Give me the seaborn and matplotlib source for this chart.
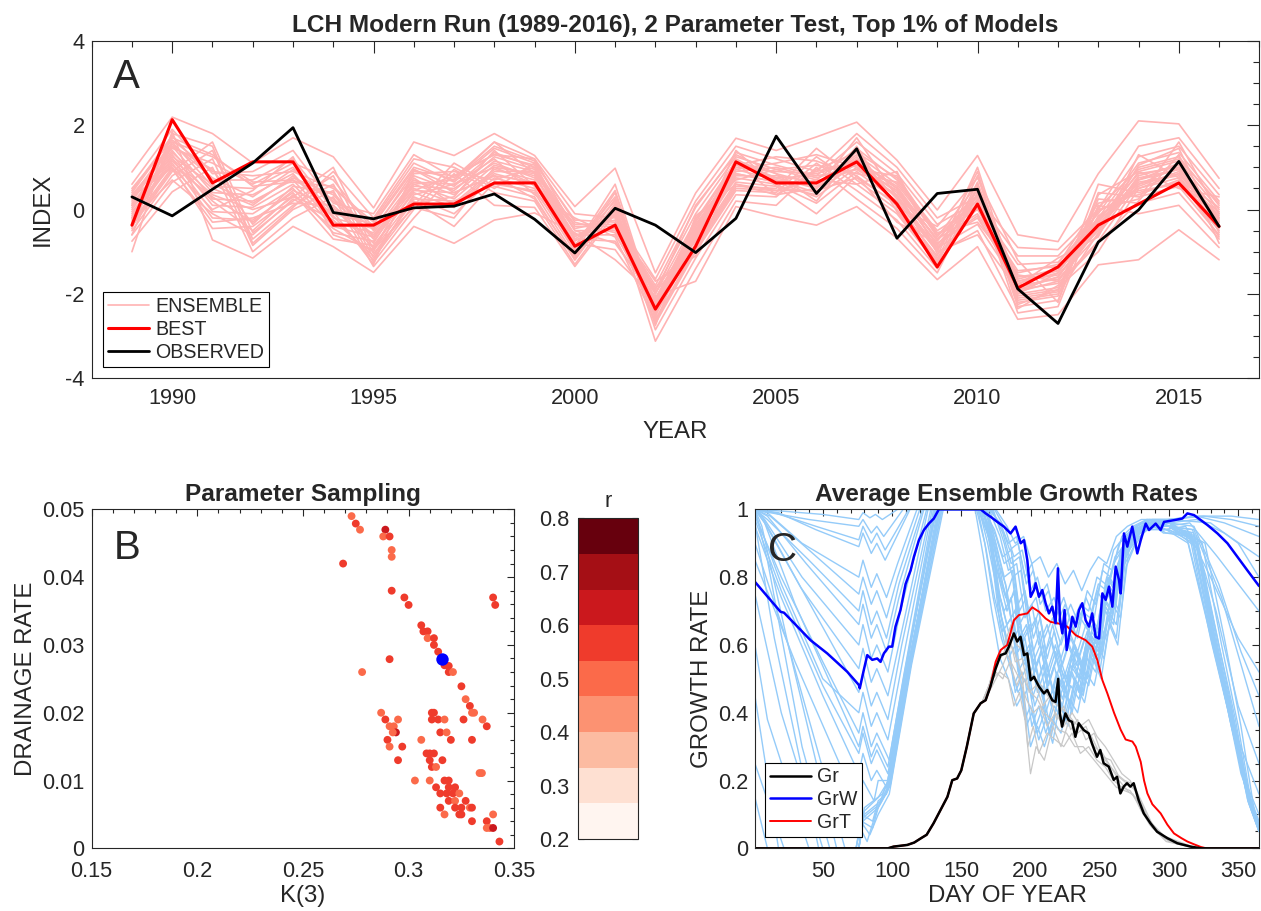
import matplotlib
matplotlib.use("Agg")
import numpy as np
import pandas as pd
import matplotlib.pyplot as plt
import seaborn as sns
from matplotlib.colors import ListedColormap, BoundaryNorm
from matplotlib.cm import ScalarMappable
from matplotlib.lines import Line2D
from matplotlib.ticker import MultipleLocator

# ---------------- Panel A: index time series ----------------
YEARS = list(range(1989, 2017))
BEST = [-0.37, 2.13, 0.63, 1.13, 1.13, -0.37, -0.37, 0.13, 0.13, 0.63, 0.63, -0.87, -0.37, -2.36,
        -0.87, 1.13, 0.63, 0.63, 1.13, 0.13, -1.36, 0.13, -1.86, -1.36, -0.37, 0.13, 0.63, -0.40]
OBSERVED = [0.30, -0.15, 0.48, 1.10, 1.94, -0.07, -0.22, 0.04, 0.08, 0.37, -0.23, -1.03, 0.03, -0.37,
            -1.02, -0.21, 1.74, 0.38, 1.44, -0.68, 0.38, 0.48, -1.88, -2.70, -0.77, -0.01, 1.14, -0.40]
# one row per year, one column per ensemble member
ENSEMBLE = [
    [0.89, 0.6, 0.45, 0.3, 0.2, 0.1, 0.0, -0.1, -0.2, -0.3, -0.4, -0.5, -0.6, -0.75, -1.0, 0.35, 0.15, -0.05, -0.25, 0.5,
     0.25, -0.15, 0.4, -0.35, 0.05, -0.45, 0.3, -0.2, 0.1, -0.6],
    [2.19, 1.9, 1.75, 1.6, 1.5, 1.4, 1.3, 1.2, 1.1, 1.0, 0.9, 0.8, 0.65, 0.42, 1.85, 1.45, 1.25, 1.05, 0.7, 1.65,
     1.55, 1.15, 1.7, 0.95, 1.35, 1.8, 1.0, 1.5, 1.2, 1.6],
    [1.8, 0.85, 0.7, 0.55, 0.4, 0.25, 0.1, -0.05, -0.2, -0.45, 1.6, 1.4, 1.2, 1.0, -0.72, 1.1, 0.6, 0.3, -0.1, 0.9,
     0.75, 0.2, 1.3, -0.3, 0.5, 1.5, 0.0, 0.95, 0.35, 1.25],
    [1.1, 0.9, 0.7, 0.5, 0.35, 0.2, 0.05, -0.1, -0.25, -0.4, -0.55, -0.7, -0.85, -1.0, -1.15, 0.6, 0.15, -0.3, -0.6, 0.8,
     0.3, -0.5, 0.55, -0.2, 0.1, -0.8, 0.45, -0.35, 0.0, 0.65],
    [1.7, 1.4, 1.2, 1.0, 0.85, 0.7, 0.6, 0.5, 0.4, 0.3, 0.2, 0.1, 0.0, -0.2, -0.4, 1.1, 0.75, 0.45, 0.25, 0.9,
     0.95, 0.35, 0.65, 0.15, 0.8, 0.05, 1.25, 0.55, 0.3, 0.7],
    [1.25, 0.15, 0.0, -0.1, -0.2, -0.3, -0.4, -0.55, -0.7, 1.0, 0.8, 0.6, 0.45, 0.3, -0.88, 0.7, 0.35, 0.05, -0.25, 0.5,
     0.2, -0.45, 0.55, 0.1, -0.15, 0.9, -0.6, 0.4, -0.05, 0.25],
    [0.04, -0.1, -0.25, -0.35, -0.45, -0.55, -0.65, -0.75, -0.85, -0.95, -1.05, -1.15, -1.25, -1.35, -1.49, -0.5, -0.7, -0.9, -1.1, -0.3,
     -0.6, -1.0, -0.4, -0.8, -1.2, -0.2, -0.95, -0.65, -1.3, -0.45],
    [1.6, 1.3, 1.1, 0.95, 0.8, 0.7, 0.6, 0.5, 0.4, 0.3, 0.2, 0.1, 0.0, -0.2, -0.4, 0.9, 0.65, 0.45, 0.25, 1.0,
     0.55, 0.85, 0.15, 0.75, 0.35, 1.2, 0.05, 0.6, 0.95, 0.45],
    [1.28, 0.75, 0.65, 0.55, 0.45, 0.35, 0.25, 0.15, 0.05, -0.1, -0.4, 1.1, 0.95, 0.85, -0.8, 0.8, 0.6, 0.4, 0.2, 0.7,
     0.5, 0.9, 0.3, 0.1, 0.6, 1.0, -0.2, 0.7, 0.4, 0.8],
    [1.8, 1.6, 1.45, 1.35, 1.25, 1.15, 1.05, 0.95, 0.85, 0.75, 0.65, 0.55, 0.4, 0.1, -0.25, 1.3, 1.0, 0.8, 0.6, 1.5,
     1.1, 0.7, 1.4, 0.9, 1.2, 0.5, 1.0, 1.6, 0.8, 1.3],
    [1.28, 1.2, 1.1, 1.0, 0.95, 0.9, 0.8, 0.7, 0.6, 0.5, 0.4, 0.3, 0.2, 0.05, -0.08, 1.05, 0.85, 0.65, 0.45, 1.15,
     0.75, 1.0, 0.55, 0.9, 0.35, 1.1, 0.6, 0.85, 0.25, 1.2],
    [0.07, -0.1, -0.25, -0.4, -0.5, -0.6, -0.7, -0.8, -0.9, -1.0, -1.1, -1.2, -1.3, -1.35, -0.55, -0.75, -0.95, -0.65, -0.85, -0.3,
     -0.45, -0.85, -0.6, -1.05, -0.2, -0.7, -0.9, -0.35, -1.15, -0.5],
    [0.98, -0.2, -0.3, -0.4, -0.5, -0.6, -0.75, -0.95, 0.6, 0.4, 0.25, 0.1, 0.0, -0.1, -1.19, -0.15, -0.35, -0.05, 0.2, -0.55,
     -0.25, 0.3, -0.45, 0.05, -0.65, -0.1, 0.45, -0.35, 0.15, -0.8],
    [-1.5, -1.65, -1.8, -1.9, -2.0, -2.1, -2.2, -2.3, -2.4, -2.5, -2.6, -2.7, -2.85, -3.12, -2.05, -2.25, -2.45, -1.95, -2.15, -2.35,
     -2.2, -2.55, -1.85, -2.3, -2.65, -2.0, -2.4, -1.7, -2.75, -2.1],
    [0.39, 0.2, 0.05, -0.1, -0.25, -0.4, -0.5, -0.6, -0.7, -0.8, -0.9, -1.0, -1.15, -1.4, -1.7, -0.45, -0.65, -0.85, -0.3, -0.55,
     -0.6, -0.2, -0.75, -0.35, -0.95, 0.1, -0.5, -1.1, -0.15, -0.7],
    [1.69, 1.5, 1.35, 1.25, 1.15, 1.05, 0.95, 0.85, 0.75, 0.65, 0.55, 0.45, 0.35, 0.2, 0.07, 1.0, 0.8, 0.6, 1.1, 0.9,
     1.2, 0.7, 1.4, 0.95, 0.5, 1.3, 0.85, 1.05, 0.6, 1.15],
    [1.4, 1.2, 1.05, 0.95, 0.85, 0.75, 0.7, 0.65, 0.6, 0.55, 0.5, 0.4, 0.3, 0.1, -0.17, 0.9, 0.8, 0.45, 0.35, 1.0,
     0.7, 0.95, 0.55, 1.1, 0.45, 0.85, 0.65, 1.25, 0.35, 0.75],
    [1.72, 0.9, 0.8, 0.7, 0.6, 0.5, 0.4, 0.3, 0.15, -0.1, 1.45, 1.25, 1.1, 1.0, -0.37, 0.85, 0.65, 0.45, 0.95, 0.75,
     0.55, 1.05, 0.35, 1.3, 0.7, 0.2, 0.9, 1.15, 0.5, 0.8],
    [2.07, 1.8, 1.6, 1.45, 1.3, 1.2, 1.1, 1.0, 0.9, 0.8, 0.7, 0.6, 0.45, 0.25, 0.07, 1.15, 0.95, 0.75, 1.35, 1.05,
     1.25, 0.85, 1.5, 1.0, 0.6, 1.4, 1.15, 0.8, 1.7, 0.95],
    [1.17, 1.0, 0.85, 0.7, 0.6, 0.5, 0.4, 0.3, 0.2, 0.1, 0.0, -0.1, -0.25, -0.45, -0.68, 0.55, 0.35, 0.15, 0.75, 0.45,
     0.25, 0.65, -0.05, 0.45, 0.9, 0.05, 0.5, -0.3, 0.3, 0.8],
    [-0.01, -0.2, -0.35, -0.5, -0.6, -0.7, -0.8, -0.9, -1.0, -1.1, -1.2, -1.3, -1.4, -1.5, -1.66, -0.75, -0.95, -1.15, -0.65, -0.85,
     -0.9, -0.55, -1.25, -0.7, -1.05, -0.4, -1.35, -0.8, -1.0, -0.6],
    [1.28, 0.3, 0.2, 0.1, 0.0, -0.1, -0.2, -0.35, -0.6, 1.0, 0.8, 0.65, 0.5, 0.4, -0.88, 0.45, 0.25, 0.05, 0.6, 0.35,
     0.15, -0.3, 0.55, 0.3, -0.5, 0.75, 0.1, -0.15, 0.9, 0.2],
    [-0.6, -0.9, -1.1, -1.3, -1.45, -1.6, -1.7, -1.8, -1.9, -2.0, -2.1, -2.2, -2.3, -2.45, -2.6, -1.75, -1.95, -2.05, -1.65, -1.85,
     -1.9, -1.5, -2.15, -1.7, -2.35, -1.2, -2.0, -1.8, -2.25, -1.55],
    [-0.76, -0.95, -1.1, -1.25, -1.35, -1.45, -1.55, -1.65, -1.75, -1.85, -1.95, -2.05, -2.15, -2.3, -2.49, -1.5, -1.7, -1.9, -1.4, -1.6,
     -1.6, -1.3, -2.0, -1.45, -1.8, -2.2, -1.5, -1.15, -1.9, -1.7],
    [0.85, 0.0, -0.1, -0.2, -0.3, -0.4, -0.5, -0.6, -0.75, -1.0, 0.6, 0.4, 0.25, 0.1, -1.31, -0.25, -0.45, -0.15, 0.05, -0.35,
     -0.3, 0.15, -0.55, -0.05, -0.8, 0.35, -0.2, -0.65, 0.0, -0.4],
    [2.1, 1.5, 1.25, 1.1, 1.0, 0.9, 0.8, 0.7, 0.6, 0.5, 0.4, 0.3, 0.15, -0.1, -1.19, 0.85, 0.65, 0.45, 0.95, 0.55,
     0.7, 0.35, 1.05, 0.5, 0.2, 0.9, 0.6, 1.3, 0.25, 0.75],
    [2.03, 1.7, 1.5, 1.35, 1.25, 1.15, 1.05, 0.95, 0.85, 0.75, 0.65, 0.55, 0.4, 0.1, -0.48, 1.0, 0.8, 0.6, 1.2, 0.9,
     1.1, 0.7, 1.45, 0.85, 1.3, 0.5, 1.0, 0.75, 1.6, 0.95],
    [0.74, 0.5, 0.35, 0.2, 0.1, 0.0, -0.1, -0.2, -0.3, -0.4, -0.5, -0.6, -0.7, -0.9, -1.19, -0.25, -0.45, -0.05, 0.15, -0.35,
     -0.3, 0.05, -0.55, -0.15, -0.8, 0.3, -0.4, -0.65, -0.1, -0.2],
]

# ---------------- Panel B: parameter sampling ----------------
K3 = [0.273, 0.275, 0.277, 0.289, 0.288, 0.291, 0.292, 0.292, 0.269, 0.292, 0.298, 0.300, 0.340, 0.341,
      0.306, 0.307, 0.309, 0.309, 0.312, 0.312, 0.314, 0.291, 0.317, 0.319, 0.319, 0.321, 0.278, 0.325,
      0.327, 0.329, 0.331, 0.330, 0.287, 0.289, 0.295, 0.311, 0.312, 0.311, 0.314, 0.317, 0.326, 0.335,
      0.337, 0.291, 0.293, 0.294, 0.2925, 0.315, 0.318, 0.306, 0.320, 0.330, 0.290, 0.291, 0.297, 0.3085,
      0.310, 0.312, 0.310, 0.316, 0.295, 0.311, 0.313, 0.3336, 0.3347, 0.303, 0.310, 0.317, 0.319, 0.313,
      0.319, 0.322, 0.315, 0.318, 0.321, 0.324, 0.319, 0.322, 0.327, 0.315, 0.322, 0.325, 0.329, 0.330,
      0.317, 0.324, 0.325, 0.340, 0.330, 0.337, 0.337, 0.3385, 0.340, 0.343]
DRAINAGE = [0.0490, 0.0479, 0.0470, 0.0470, 0.0460, 0.0460, 0.0440, 0.0430, 0.0420, 0.0380, 0.0370, 0.0359,
            0.0370, 0.0359, 0.0329, 0.0320, 0.0320, 0.0310, 0.0310, 0.0300, 0.0290, 0.0279, 0.0270, 0.0269,
            0.0260, 0.0260, 0.0260, 0.0239, 0.0220, 0.0210, 0.0200, 0.0200, 0.0200, 0.0190, 0.0190, 0.0200,
            0.0200, 0.0190, 0.0190, 0.0190, 0.0190, 0.0190, 0.0180, 0.0180, 0.0180, 0.0171, 0.0171, 0.0171,
            0.0171, 0.0160, 0.0160, 0.0160, 0.0160, 0.0150, 0.0150, 0.0140, 0.0140, 0.0140, 0.0130, 0.0130,
            0.0130, 0.0120, 0.0120, 0.0111, 0.0111, 0.0100, 0.0100, 0.0100, 0.0100, 0.0090, 0.0090, 0.0090,
            0.0081, 0.0081, 0.0081, 0.0081, 0.0070, 0.0070, 0.0070, 0.0060, 0.0060, 0.0060, 0.0060, 0.0060,
            0.0050, 0.0050, 0.0050, 0.0050, 0.0040, 0.0040, 0.0030, 0.0030, 0.0030, 0.0010]
R_VALUE = [0.50, 0.57, 0.50, 0.63, 0.50, 0.57, 0.50, 0.50, 0.57, 0.57, 0.57, 0.57, 0.57, 0.57,
           0.57, 0.57, 0.57, 0.50, 0.57, 0.57, 0.57, 0.57, 0.57, 0.57, 0.57, 0.50, 0.50, 0.57,
           0.50, 0.57, 0.50, 0.50, 0.50, 0.57, 0.50, 0.57, 0.57, 0.57, 0.57, 0.50, 0.57, 0.50,
           0.57, 0.50, 0.50, 0.63, 0.50, 0.57, 0.50, 0.50, 0.57, 0.57, 0.57, 0.50, 0.57, 0.57,
           0.57, 0.57, 0.57, 0.57, 0.57, 0.57, 0.50, 0.50, 0.50, 0.50, 0.50, 0.57, 0.57, 0.57,
           0.57, 0.57, 0.57, 0.57, 0.57, 0.50, 0.57, 0.50, 0.57, 0.57, 0.57, 0.57, 0.50, 0.57,
           0.50, 0.57, 0.57, 0.50, 0.57, 0.57, 0.50, 0.50, 0.63, 0.57]
BEST_K3 = 0.3158
BEST_DRAINAGE = 0.0279
R_TICKS = [0.2, 0.3, 0.4, 0.5, 0.6, 0.7, 0.8]
REDS9 = ["#fff5f0", "#fee0d2", "#fcbba1", "#fc9272", "#fb6a4a",
         "#ef3b2c", "#cb181d", "#a50f15", "#67000d"]

# ---------------- Panel C: growth rates (day, value) ----------------
GRW_BEST = [(1, 0.786), (19.4, 0.698), (22, 0.695), (41.1, 0.614), (53.2, 0.575), (67.6, 0.521), (76, 0.482),
            (76.7, 0.472), (79.6, 0.526), (82.1, 0.57), (85.7, 0.556), (89.3, 0.56), (91.7, 0.55), (94.1, 0.575),
            (97.7, 0.595), (100.1, 0.595), (102.5, 0.654), (106.1, 0.703), (109.8, 0.78), (113.4, 0.82),
            (115.8, 0.86), (119.4, 0.909), (123, 0.939), (126.6, 0.958), (130.2, 0.973), (133.8, 1.0),
            (164, 1.0), (167.6, 0.988), (171.2, 0.978), (176, 0.963), (180.8, 0.949), (185.6, 0.929),
            (189.2, 0.949), (192.9, 0.90), (195.3, 0.909), (197.7, 0.85), (200.1, 0.742), (202.5, 0.762),
            (203.7, 0.782), (206.1, 0.742), (208.5, 0.762), (210.9, 0.723), (213.3, 0.693), (215.7, 0.713),
            (218.1, 0.664), (219.8, 0.826), (221.3, 0.673), (223, 0.634), (224.6, 0.703), (226.1, 0.585),
            (227.8, 0.624), (230.2, 0.683), (232.6, 0.654), (235, 0.703), (237.4, 0.723), (239.8, 0.673),
            (242.2, 0.654), (244.6, 0.693), (247, 0.624), (249.5, 0.619), (251.9, 0.752), (254.3, 0.733),
            (256.7, 0.772), (259.1, 0.713), (261.5, 0.831), (263.9, 0.792), (265.1, 0.752), (267.5, 0.929),
            (269.9, 0.89), (273.5, 0.949), (277.1, 0.87), (279.6, 0.909), (283.2, 0.958), (285.6, 0.939),
            (290.4, 0.958), (294, 0.939), (296.4, 0.963), (303.6, 0.968), (309.7, 0.973), (313.3, 0.988),
            (318.1, 0.983), (327.7, 0.954), (335, 0.929), (342.2, 0.90), (349.4, 0.86), (356.6, 0.82),
            (365, 0.774)]
GRT_BEST = [(1, 0.0), (97, 0.0), (101, 0.005), (111, 0.01), (116, 0.017), (121, 0.03), (125, 0.04),
            (130, 0.074), (135, 0.113), (140, 0.152), (143.5, 0.201), (147, 0.206), (150, 0.23), (154, 0.30),
            (159, 0.398), (164, 0.428), (167.6, 0.437), (171, 0.477), (174.8, 0.55), (178.4, 0.585),
            (183.2, 0.6), (188, 0.673), (191.6, 0.688), (197.7, 0.693), (201.3, 0.711), (206.1, 0.698),
            (210.9, 0.678), (214.5, 0.668), (220.5, 0.663), (226.6, 0.654), (232.6, 0.629), (239.8, 0.614),
            (244.6, 0.595), (248.3, 0.555), (251.9, 0.496), (255.5, 0.457), (260.3, 0.40), (265.1, 0.35),
            (268.7, 0.321), (273.6, 0.315), (276, 0.30), (279.6, 0.255), (282, 0.2), (284.4, 0.162),
            (288, 0.13), (294, 0.103), (298.8, 0.07), (303.6, 0.044), (309, 0.03), (313.3, 0.02),
            (318, 0.012), (323, 0.004), (327, 0.0), (365, 0.0)]
GR_BEST = [(1, 0.0), (97, 0.0), (101, 0.005), (111, 0.01), (116, 0.017), (121, 0.03), (125, 0.04),
           (130, 0.074), (135, 0.113), (140, 0.152), (143.5, 0.201), (147, 0.206), (150, 0.23), (154, 0.30),
           (159, 0.398), (164, 0.428), (167.6, 0.437), (171, 0.477), (174.8, 0.53), (178.4, 0.57),
           (182, 0.575), (184.4, 0.595), (188, 0.634), (190.4, 0.61), (192.8, 0.624), (195.3, 0.57),
           (197.7, 0.575), (200.1, 0.496), (202.5, 0.506), (206.1, 0.477), (209.7, 0.457), (212.1, 0.467),
           (215.7, 0.437), (218.1, 0.432), (220, 0.50), (221.2, 0.398), (222.8, 0.359), (225.2, 0.398),
           (227.6, 0.378), (230, 0.373), (232.4, 0.329), (234.8, 0.369), (238.4, 0.349), (242, 0.339),
           (244.4, 0.309), (248, 0.27), (250.4, 0.29), (252.8, 0.251), (256.5, 0.241), (260.1, 0.202),
           (262.5, 0.211), (264.9, 0.162), (267.3, 0.182), (269.7, 0.192), (272.1, 0.182), (274.5, 0.192),
           (278.1, 0.142), (281.8, 0.103), (286.6, 0.074), (291.4, 0.049), (298.8, 0.03), (306, 0.015),
           (315.7, 0.005), (323, 0.0), (365, 0.0)]

GR_MEMBERS = [
    [(165, 0.43), (170, 0.46), (175, 0.50), (180, 0.54), (186, 0.60), (190, 0.56), (195, 0.50), (200, 0.46),
     (205, 0.44), (210, 0.40), (215, 0.38), (220, 0.35), (226, 0.34), (232, 0.30), (238, 0.30), (244, 0.27),
     (250, 0.24), (256, 0.21), (262, 0.18), (268, 0.17), (274, 0.16), (280, 0.11), (288, 0.06), (300, 0.02), (320, 0.0)],
    [(165, 0.43), (170, 0.47), (175, 0.52), (180, 0.50), (185, 0.55), (190, 0.48), (194, 0.52), (198, 0.30),
     (202, 0.36), (206, 0.28), (212, 0.34), (218, 0.32), (224, 0.30), (230, 0.34), (236, 0.28), (242, 0.30),
     (248, 0.26), (254, 0.24), (260, 0.20), (266, 0.18), (272, 0.17), (278, 0.13), (286, 0.07), (298, 0.02), (320, 0.0)],
    [(165, 0.43), (170, 0.48), (175, 0.55), (181, 0.60), (186, 0.66), (190, 0.60), (196, 0.58), (202, 0.50),
     (208, 0.48), (214, 0.44), (220, 0.42), (226, 0.40), (232, 0.37), (238, 0.35), (244, 0.33), (250, 0.28),
     (256, 0.25), (262, 0.22), (268, 0.20), (274, 0.19), (280, 0.14), (288, 0.07), (300, 0.02), (320, 0.0)],
    [(165, 0.43), (172, 0.50), (178, 0.52), (184, 0.50), (188, 0.42), (192, 0.46), (196, 0.38), (200, 0.22),
     (204, 0.30), (210, 0.26), (216, 0.36), (222, 0.30), (228, 0.38), (234, 0.34), (240, 0.36), (246, 0.30),
     (252, 0.28), (258, 0.24), (264, 0.20), (270, 0.17), (276, 0.15), (284, 0.09), (296, 0.03), (320, 0.0)],
    [(165, 0.43), (171, 0.49), (176, 0.56), (182, 0.58), (187, 0.54), (192, 0.50), (197, 0.44), (202, 0.40),
     (207, 0.42), (212, 0.36), (218, 0.40), (224, 0.36), (230, 0.40), (236, 0.36), (242, 0.38), (248, 0.33),
     (254, 0.30), (260, 0.26), (266, 0.22), (272, 0.20), (278, 0.15), (286, 0.08), (298, 0.03), (320, 0.0)],
    [(165, 0.43), (170, 0.48), (174, 0.54), (180, 0.57), (185, 0.62), (189, 0.55), (194, 0.56), (199, 0.46),
     (204, 0.48), (209, 0.42), (214, 0.45), (219, 0.38), (224, 0.42), (229, 0.35), (234, 0.38), (240, 0.32),
     (246, 0.34), (252, 0.27), (258, 0.26), (264, 0.21), (270, 0.19), (276, 0.17), (283, 0.10), (294, 0.04), (320, 0.0)],
]

GRW_MEMBERS = [
    [(1, 1.0), (20, 0.995), (50, 0.985), (76, 0.97), (79, 0.99), (84, 0.975), (88, 0.985), (93, 0.97), (104, 1.0),
     (170, 1.0), (178, 0.96), (184, 0.9), (190, 0.92), (196, 0.8), (201, 0.84), (206, 0.74), (212, 0.78), (218, 0.68),
     (224, 0.74), (230, 0.66), (236, 0.72), (242, 0.7), (248, 0.8), (254, 0.78), (260, 0.88), (268, 0.92), (276, 0.95),
     (288, 0.97), (300, 0.97), (325, 0.98), (345, 0.97), (365, 0.95)],
    [(1, 1.0), (15, 0.99), (45, 0.95), (76, 0.91), (79, 0.95), (85, 0.9), (89, 0.93), (95, 0.88), (112, 1.0),
     (172, 1.0), (180, 0.93), (186, 0.84), (192, 0.86), (198, 0.7), (204, 0.74), (210, 0.62), (216, 0.68), (222, 0.6),
     (228, 0.68), (234, 0.62), (240, 0.74), (246, 0.68), (252, 0.82), (258, 0.8), (264, 0.9), (272, 0.93), (280, 0.96),
     (300, 0.97), (330, 0.96), (350, 0.9), (365, 0.8)],
    [(1, 1.0), (12, 0.98), (40, 0.88), (76, 0.75), (79, 0.8), (85, 0.72), (89, 0.76), (96, 0.68), (104, 0.8), (120, 1.0),
     (162, 1.0), (170, 0.92), (176, 0.82), (182, 0.74), (187, 0.8), (192, 0.62), (197, 0.66), (202, 0.55), (207, 0.6),
     (212, 0.5), (218, 0.58), (224, 0.48), (230, 0.56), (236, 0.5), (242, 0.64), (248, 0.6), (254, 0.78), (260, 0.74),
     (266, 0.88), (274, 0.94), (284, 0.97), (300, 0.96), (320, 0.97), (340, 0.93), (365, 0.86)],
    [(1, 1.0), (10, 0.97), (40, 0.85), (76, 0.70), (79, 0.76), (85, 0.66), (89, 0.7), (96, 0.62), (105, 0.78), (122, 1.0),
     (166, 1.0), (174, 0.94), (180, 0.86), (186, 0.88), (191, 0.72), (196, 0.76), (201, 0.64), (206, 0.7), (211, 0.58),
     (216, 0.66), (222, 0.56), (228, 0.64), (234, 0.58), (240, 0.66), (246, 0.6), (252, 0.74), (258, 0.7), (264, 0.84),
     (270, 0.88), (278, 0.94), (290, 0.96), (298, 0.95), (315, 0.96), (335, 0.86), (365, 0.7)],
    [(1, 1.0), (8, 0.97), (35, 0.8), (76, 0.60), (79, 0.66), (85, 0.56), (89, 0.6), (97, 0.52), (106, 0.7), (125, 1.0),
     (164, 1.0), (170, 0.95), (177, 0.76), (183, 0.66), (189, 0.7), (194, 0.56), (199, 0.6), (204, 0.48), (209, 0.54),
     (214, 0.44), (219, 0.52), (225, 0.46), (231, 0.6), (237, 0.54), (243, 0.66), (249, 0.62), (255, 0.8), (261, 0.76),
     (267, 0.9), (276, 0.95), (286, 0.97), (300, 0.95), (318, 0.94), (338, 0.74), (355, 0.5), (365, 0.36)],
    [(1, 1.0), (6, 0.98), (30, 0.8), (76, 0.46), (79, 0.52), (85, 0.42), (89, 0.46), (97, 0.38), (107, 0.6), (128, 1.0),
     (168, 1.0), (176, 0.85), (182, 0.78), (188, 0.62), (193, 0.66), (198, 0.5), (203, 0.55), (208, 0.46), (213, 0.52),
     (218, 0.44), (223, 0.5), (229, 0.42), (235, 0.55), (241, 0.5), (247, 0.62), (252, 0.58), (258, 0.75), (264, 0.7),
     (270, 0.9), (278, 0.93), (286, 0.96), (296, 0.94), (312, 0.95), (330, 0.8), (350, 0.62), (365, 0.52)],
    [(1, 0.98), (20, 0.8), (50, 0.55), (76, 0.34), (79, 0.40), (85, 0.30), (89, 0.34), (98, 0.26), (108, 0.5), (130, 1.0),
     (165, 1.0), (172, 0.9), (178, 0.7), (184, 0.6), (188, 0.48), (192, 0.52), (196, 0.38), (200, 0.42), (205, 0.34),
     (210, 0.4), (215, 0.33), (220, 0.45), (226, 0.38), (232, 0.5), (238, 0.45), (244, 0.58), (250, 0.52), (256, 0.68),
     (262, 0.62), (268, 0.85), (274, 0.9), (282, 0.95), (300, 0.95), (316, 0.93), (332, 0.62), (348, 0.34), (365, 0.16)],
    [(1, 0.95), (20, 0.74), (50, 0.45), (76, 0.22), (79, 0.28), (85, 0.2), (89, 0.23), (96, 0.18), (110, 0.5), (133, 1.0),
     (160, 1.0), (166, 0.86), (172, 0.7), (178, 0.56), (184, 0.5), (190, 0.42), (195, 0.46), (200, 0.3), (205, 0.36),
     (210, 0.3), (216, 0.38), (222, 0.34), (228, 0.44), (234, 0.4), (240, 0.52), (246, 0.48), (252, 0.6), (258, 0.66),
     (264, 0.8), (272, 0.9), (282, 0.94), (300, 0.94), (318, 0.9), (333, 0.59), (345, 0.36), (356, 0.18), (365, 0.08)],
    [(1, 0.9), (25, 0.6), (66, 0.0), (74, 0.0), (78, 0.1), (86, 0.08), (90, 0.14), (96, 0.16), (112, 0.55), (135, 1.0),
     (163, 1.0), (171, 0.9), (177, 0.8), (183, 0.7), (188, 0.76), (193, 0.6), (198, 0.64), (203, 0.52), (208, 0.58),
     (213, 0.48), (219, 0.56), (225, 0.46), (231, 0.54), (237, 0.48), (243, 0.62), (249, 0.58), (255, 0.76), (261, 0.72),
     (267, 0.86), (275, 0.93), (285, 0.96), (298, 0.93), (315, 0.92), (330, 0.62), (343, 0.4), (354, 0.2), (365, 0.06)],
    [(1, 0.75), (20, 0.4), (50, 0.0), (76, 0.0), (79, 0.08), (90, 0.12), (98, 0.18), (114, 0.55), (136, 1.0),
     (167, 1.0), (175, 0.92), (181, 0.84), (187, 0.86), (192, 0.7), (197, 0.74), (202, 0.62), (207, 0.68), (212, 0.56),
     (217, 0.64), (223, 0.54), (229, 0.62), (235, 0.56), (241, 0.64), (247, 0.58), (253, 0.72), (259, 0.68), (265, 0.82),
     (271, 0.86), (279, 0.93), (291, 0.95), (302, 0.96), (320, 0.9), (334, 0.6), (346, 0.36), (357, 0.14), (365, 0.05)],
    [(1, 0.25), (22, 0.0), (76, 0.0), (80, 0.1), (92, 0.14), (99, 0.2), (115, 0.6), (135, 1.0),
     (169, 1.0), (177, 0.86), (183, 0.76), (189, 0.6), (194, 0.64), (199, 0.48), (204, 0.53), (209, 0.44), (214, 0.5),
     (219, 0.42), (224, 0.48), (230, 0.4), (236, 0.52), (242, 0.48), (248, 0.6), (253, 0.56), (259, 0.72), (265, 0.68),
     (271, 0.88), (279, 0.92), (287, 0.95), (300, 0.95), (322, 0.88), (336, 0.6), (348, 0.38), (359, 0.12), (365, 0.06)],
    [(1, 0.96), (15, 0.62), (47, 0.0), (76, 0.0), (80, 0.12), (93, 0.16), (100, 0.22), (115, 0.58), (134, 1.0),
     (165, 1.0), (171, 0.94), (178, 0.74), (184, 0.64), (190, 0.68), (195, 0.54), (200, 0.58), (205, 0.46), (210, 0.52),
     (215, 0.42), (220, 0.5), (226, 0.44), (232, 0.58), (238, 0.52), (244, 0.64), (250, 0.6), (256, 0.78), (262, 0.74),
     (268, 0.88), (277, 0.94), (287, 0.96), (296, 0.93), (312, 0.93), (328, 0.66), (342, 0.42), (352, 0.22), (365, 0.07)],
    [(1, 1.0), (10, 0.85), (35, 0.3), (55, 0.0), (74, 0.0), (77, 0.06), (82, 0.02), (88, 0.1), (97, 0.2), (113, 0.6), (132, 1.0),
     (166, 1.0), (173, 0.88), (179, 0.68), (185, 0.58), (189, 0.46), (193, 0.5), (197, 0.36), (201, 0.4), (206, 0.32),
     (211, 0.38), (216, 0.31), (221, 0.43), (227, 0.36), (233, 0.48), (239, 0.43), (245, 0.56), (251, 0.5), (257, 0.66),
     (263, 0.6), (269, 0.83), (275, 0.89), (283, 0.94), (300, 0.96), (326, 0.9), (340, 0.62), (352, 0.36), (362, 0.1), (365, 0.07)],
    [(1, 0.85), (30, 0.55), (76, 0.12), (79, 0.2), (87, 0.14), (90, 0.2), (97, 0.2), (111, 0.55), (131, 1.0),
     (171, 1.0), (179, 0.95), (185, 0.88), (191, 0.9), (197, 0.78), (202, 0.82), (207, 0.72), (213, 0.76), (219, 0.66),
     (225, 0.72), (231, 0.64), (237, 0.7), (243, 0.68), (249, 0.78), (255, 0.76), (261, 0.86), (269, 0.9), (277, 0.94),
     (289, 0.96), (298, 0.94), (314, 0.9), (331, 0.62), (344, 0.4), (355, 0.2), (365, 0.1)],
    [(1, 1.0), (18, 0.99), (45, 0.94), (76, 0.89), (79, 0.93), (85, 0.87), (89, 0.9), (95, 0.85), (113, 1.0),
     (174, 1.0), (182, 0.94), (188, 0.86), (194, 0.88), (200, 0.76), (205, 0.8), (211, 0.7), (217, 0.74), (223, 0.66),
     (229, 0.72), (235, 0.66), (241, 0.76), (247, 0.72), (253, 0.84), (259, 0.82), (266, 0.92), (274, 0.95), (284, 0.97),
     (300, 0.97), (320, 0.98), (340, 0.96), (365, 0.92)],
    [(1, 1.0), (10, 0.98), (38, 0.84), (76, 0.66), (79, 0.72), (85, 0.62), (89, 0.66), (96, 0.58), (105, 0.74), (123, 1.0),
     (163, 1.0), (169, 0.9), (175, 0.78), (181, 0.7), (186, 0.74), (191, 0.58), (196, 0.62), (201, 0.5), (206, 0.56),
     (211, 0.46), (217, 0.54), (223, 0.44), (229, 0.52), (235, 0.46), (241, 0.6), (247, 0.56), (253, 0.74), (259, 0.7),
     (265, 0.86), (273, 0.93), (283, 0.96), (300, 0.95), (317, 0.94), (334, 0.7), (350, 0.42), (365, 0.25)],
    [(1, 1.0), (8, 0.96), (34, 0.77), (76, 0.53), (79, 0.59), (85, 0.49), (89, 0.53), (97, 0.45), (107, 0.64), (126, 1.0),
     (168, 1.0), (175, 0.9), (181, 0.8), (187, 0.82), (192, 0.66), (197, 0.7), (202, 0.58), (207, 0.64), (212, 0.52),
     (218, 0.6), (224, 0.5), (230, 0.58), (236, 0.52), (242, 0.64), (248, 0.6), (254, 0.76), (260, 0.72), (266, 0.86),
     (273, 0.91), (282, 0.95), (300, 0.95), (320, 0.9), (335, 0.62), (347, 0.38), (358, 0.16), (365, 0.06)],
    [(1, 0.99), (20, 0.78), (50, 0.5), (76, 0.40), (79, 0.46), (85, 0.36), (89, 0.4), (97, 0.32), (108, 0.56), (129, 1.0),
     (161, 1.0), (167, 0.9), (173, 0.74), (179, 0.62), (185, 0.54), (191, 0.46), (196, 0.5), (201, 0.36), (206, 0.42),
     (211, 0.34), (217, 0.42), (223, 0.38), (229, 0.48), (235, 0.44), (241, 0.56), (247, 0.52), (253, 0.64), (259, 0.7),
     (265, 0.84), (273, 0.92), (283, 0.95), (298, 0.94), (316, 0.92), (332, 0.6), (345, 0.37), (356, 0.17), (365, 0.05)],
    [(1, 0.97), (20, 0.76), (50, 0.48), (76, 0.28), (79, 0.34), (85, 0.25), (89, 0.29), (97, 0.22), (109, 0.5), (131, 1.0),
     (170, 1.0), (178, 0.92), (184, 0.82), (190, 0.84), (196, 0.68), (201, 0.72), (206, 0.6), (212, 0.66), (218, 0.56),
     (224, 0.64), (230, 0.58), (236, 0.68), (242, 0.64), (248, 0.76), (254, 0.72), (260, 0.84), (266, 0.88), (274, 0.94),
     (286, 0.96), (300, 0.96), (321, 0.9), (335, 0.6), (347, 0.37), (358, 0.13), (365, 0.05)],
    [(1, 0.6), (10, 0.38), (40, 0.0), (76, 0.0), (79, 0.07), (84, 0.04), (90, 0.1), (98, 0.16), (114, 0.54), (137, 1.0),
     (166, 1.0), (172, 0.86), (178, 0.66), (184, 0.56), (189, 0.6), (194, 0.44), (199, 0.48), (204, 0.36), (209, 0.42),
     (214, 0.34), (220, 0.44), (226, 0.38), (232, 0.5), (238, 0.46), (244, 0.6), (250, 0.56), (256, 0.7), (262, 0.66),
     (268, 0.86), (276, 0.92), (286, 0.95), (300, 0.95), (319, 0.91), (333, 0.62), (346, 0.38), (357, 0.16), (365, 0.06)],
    [(1, 1.0), (12, 0.99), (40, 0.97), (76, 0.95), (79, 0.97), (85, 0.93), (89, 0.95), (94, 0.92), (108, 1.0),
     (175, 1.0), (183, 0.95), (189, 0.9), (195, 0.92), (201, 0.84), (207, 0.86), (213, 0.8), (219, 0.84), (225, 0.78),
     (231, 0.82), (237, 0.76), (243, 0.82), (249, 0.86), (255, 0.84), (262, 0.92), (270, 0.95), (280, 0.97),
     (300, 0.97), (322, 0.98), (345, 0.98), (365, 0.97)],
    [(1, 1.0), (8, 0.96), (30, 0.72), (76, 0.3), (79, 0.36), (85, 0.27), (89, 0.31), (97, 0.24), (110, 0.54), (132, 1.0),
     (164, 1.0), (171, 0.9), (177, 0.72), (183, 0.6), (188, 0.66), (193, 0.5), (198, 0.54), (203, 0.42), (208, 0.48),
     (213, 0.38), (218, 0.46), (224, 0.4), (230, 0.52), (236, 0.46), (242, 0.6), (248, 0.54), (254, 0.7), (260, 0.66),
     (266, 0.86), (274, 0.92), (284, 0.95), (300, 0.95), (320, 0.9), (334, 0.6), (346, 0.36), (357, 0.14), (365, 0.05)],
    [(1, 0.45), (18, 0.0), (76, 0.0), (79, 0.09), (91, 0.13), (99, 0.19), (116, 0.6), (136, 1.0),
     (167, 1.0), (174, 0.9), (180, 0.78), (186, 0.68), (191, 0.72), (196, 0.56), (201, 0.6), (206, 0.5), (211, 0.56),
     (216, 0.46), (221, 0.54), (227, 0.48), (233, 0.58), (239, 0.52), (245, 0.66), (251, 0.62), (257, 0.8), (263, 0.76),
     (269, 0.9), (277, 0.94), (288, 0.96), (300, 0.95), (318, 0.93), (332, 0.62), (345, 0.37), (355, 0.18), (365, 0.06)],
    [(1, 1.0), (6, 0.95), (25, 0.6), (60, 0.0), (74, 0.0), (78, 0.08), (86, 0.06), (90, 0.12), (97, 0.17), (113, 0.56), (134, 1.0),
     (162, 1.0), (168, 0.88), (174, 0.74), (180, 0.64), (186, 0.68), (191, 0.52), (196, 0.56), (201, 0.44), (206, 0.5),
     (211, 0.4), (217, 0.48), (223, 0.42), (229, 0.54), (235, 0.5), (241, 0.62), (247, 0.58), (253, 0.72), (259, 0.68),
     (265, 0.88), (273, 0.93), (284, 0.96), (300, 0.96), (324, 0.9), (338, 0.6), (350, 0.36), (360, 0.12), (365, 0.07)],
    [(1, 1.0), (10, 0.99), (35, 0.9), (76, 0.8), (79, 0.85), (85, 0.77), (89, 0.81), (96, 0.74), (104, 0.84), (118, 1.0),
     (173, 1.0), (181, 0.9), (187, 0.8), (193, 0.82), (199, 0.64), (204, 0.68), (209, 0.56), (215, 0.62), (221, 0.52),
     (227, 0.6), (233, 0.54), (239, 0.62), (245, 0.58), (251, 0.72), (257, 0.68), (263, 0.84), (270, 0.9), (279, 0.95),
     (300, 0.96), (318, 0.95), (336, 0.78), (352, 0.58), (365, 0.45)],
    [(1, 0.15), (10, 0.0), (76, 0.0), (80, 0.11), (90, 0.15), (99, 0.21), (114, 0.58), (134, 1.0),
     (165, 1.0), (172, 0.92), (178, 0.8), (184, 0.72), (189, 0.76), (194, 0.62), (199, 0.66), (204, 0.54), (209, 0.6),
     (214, 0.5), (220, 0.58), (226, 0.5), (232, 0.6), (238, 0.54), (244, 0.68), (250, 0.64), (256, 0.8), (262, 0.76),
     (268, 0.9), (276, 0.94), (286, 0.96), (300, 0.95), (320, 0.92), (333, 0.62), (346, 0.38), (356, 0.18), (365, 0.05)],
]

# ---------------- styling ----------------
sns.set_theme(style="white")
plt.rcParams["font.family"] = ["Liberation Sans", "DejaVu Sans"]
plt.rcParams["axes.unicode_minus"] = False

INK = "#262626"
PINK = "#ffb3b3"
LIGHT_BLUE = "#94cbf9"
GREY = "#c8c8c8"
TICK_FS = 15.7
LABEL_FS = 17.3
TITLE_FS = 17.6


def style_axes(ax, major_len, minor_len, xpad=7):
    ax.tick_params(which="both", direction="in", top=True, right=True, color=INK,
                   width=0.8, labelsize=TICK_FS, labelcolor=INK)
    ax.tick_params(which="major", length=major_len)
    ax.tick_params(which="minor", length=minor_len)
    ax.tick_params(axis="x", which="major", pad=xpad)
    ax.tick_params(axis="y", which="major", pad=5)
    for sp in ax.spines.values():
        sp.set_color(INK)
        sp.set_linewidth(0.8)
        sp.set_visible(True)


def knots_frame(members):
    rows = []
    for m, knots in enumerate(members):
        for d, v in knots:
            rows.append((m, d, v))
    return pd.DataFrame(rows, columns=["member", "day", "value"])


fig = plt.figure(figsize=(12.61, 9.11), dpi=100)
fig.patch.set_facecolor("white")

# ---------- A ----------
axA = fig.add_axes([0.0727, 0.5847, 0.9260, 0.3706])
ens_rows = []
for yi, yr in enumerate(YEARS):
    for m, v in enumerate(ENSEMBLE[yi]):
        ens_rows.append((m, yr, v))
ens_df = pd.DataFrame(ens_rows, columns=["member", "year", "value"])
sns.lineplot(data=ens_df, x="year", y="value", units="member", estimator=None,
             color=PINK, linewidth=1.2, ax=axA, legend=False)
sns.lineplot(x=YEARS, y=BEST, color="red", linewidth=2.2, ax=axA)
sns.lineplot(x=YEARS, y=OBSERVED, color="black", linewidth=2.0, ax=axA)
axA.set_xlim(1988, 2017)
axA.set_ylim(-4, 4)
axA.set_xticks([1990, 1995, 2000, 2005, 2010, 2015])
axA.set_yticks([-4, -2, 0, 2, 4])
axA.xaxis.set_minor_locator(MultipleLocator(1))
axA.yaxis.set_minor_locator(MultipleLocator(0.5))
style_axes(axA, 8.6, 4.3)
axA.set_xlabel("YEAR", fontsize=LABEL_FS, color=INK)
axA.set_ylabel("INDEX", fontsize=LABEL_FS, color=INK)
axA.xaxis.set_label_coords(0.5, -0.125)
axA.yaxis.set_label_coords(-0.0323, 0.5)
axA.set_title("LCH Modern Run (1989-2016), 2 Parameter Test, Top 1% of Models",
              fontsize=TITLE_FS, fontweight="bold", pad=6)
axA.text(0.018, 0.859, "A", transform=axA.transAxes, fontsize=29, va="baseline", ha="left")
handlesA = [Line2D([], [], color=PINK, lw=1.2), Line2D([], [], color="red", lw=2.2),
            Line2D([], [], color="black", lw=2.0)]
legA = axA.legend(handlesA, ["ENSEMBLE", "BEST", "OBSERVED"], loc="lower left",
                  bbox_to_anchor=(0.0097, 0.0335), borderaxespad=0, fontsize=14.1,
                  handlelength=2.1, handletextpad=0.3, labelspacing=0.2, borderpad=0.25,
                  fancybox=False, framealpha=1, edgecolor="black")
legA.get_frame().set_linewidth(0.8)

# ---------- B ----------
axB = fig.add_axes([0.0727, 0.0688, 0.3351, 0.3721])
cmap = ListedColormap(REDS9)
bounds = np.linspace(0.2, 0.8, 10)
norm = BoundaryNorm(bounds, cmap.N)
palette = {r: cmap(norm(r)) for r in set(R_VALUE)}
sns.scatterplot(x=K3, y=DRAINAGE, hue=R_VALUE, palette=palette, s=32, linewidth=0,
                legend=False, ax=axB, zorder=3)
sns.scatterplot(x=[BEST_K3], y=[BEST_DRAINAGE], color="blue", s=80, linewidth=0,
                ax=axB, zorder=4)
axB.set_xlim(0.15, 0.35)
axB.set_ylim(0, 0.05)
axB.set_xticks([0.15, 0.2, 0.25, 0.3, 0.35], ["0.15", "0.2", "0.25", "0.3", "0.35"])
axB.set_yticks([0, 0.01, 0.02, 0.03, 0.04, 0.05], ["0", "0.01", "0.02", "0.03", "0.04", "0.05"])
axB.xaxis.set_minor_locator(MultipleLocator(0.01))
axB.yaxis.set_minor_locator(MultipleLocator(0.002))
style_axes(axB, 5, 2.9, xpad=8.8)
axB.set_xlabel("K(3)", fontsize=LABEL_FS, color=INK)
axB.set_ylabel("DRAINAGE RATE", fontsize=LABEL_FS, color=INK)
axB.xaxis.set_label_coords(0.5, -0.109)
axB.yaxis.set_label_coords(-0.130, 0.5)
axB.set_title("Parameter Sampling", fontsize=TITLE_FS, fontweight="bold", pad=6)
axB.text(0.053, 0.8525, "B", transform=axB.transAxes, fontsize=29, va="baseline", ha="left")

# colorbar
cax = fig.add_axes([0.4581, 0.0790, 0.0481, 0.3521])
cb = fig.colorbar(ScalarMappable(norm=norm, cmap=cmap), cax=cax, ticks=R_TICKS,
                  spacing="proportional")
cb.ax.set_yticklabels([f"{t:.1f}" for t in R_TICKS])
cb.ax.yaxis.set_ticks_position("both")
cb.ax.tick_params(which="both", direction="in", length=4, width=0.8, color=INK,
                  labelsize=TICK_FS, labelcolor=INK, left=True, right=True,
                  labelleft=True, labelright=False, pad=6)
cb.ax.minorticks_off()
cb.outline.set_edgecolor(INK)
cb.outline.set_linewidth(0.8)
cb.ax.set_title("r", fontsize=TICK_FS, color=INK, pad=8)

# ---------- C ----------
axC = fig.add_axes([0.5987, 0.0688, 0.3997, 0.3721])
sns.lineplot(data=knots_frame(GRW_MEMBERS), x="day", y="value", units="member",
             estimator=None, color=LIGHT_BLUE, linewidth=1.0, ax=axC, legend=False)
sns.lineplot(data=knots_frame(GR_MEMBERS), x="day", y="value", units="member",
             estimator=None, color=GREY, linewidth=0.9, ax=axC, legend=False)
grt = pd.DataFrame(GRT_BEST, columns=["day", "value"])
gr = pd.DataFrame(GR_BEST, columns=["day", "value"])
grw = pd.DataFrame(GRW_BEST, columns=["day", "value"])
sns.lineplot(data=grt, x="day", y="value", color="red", linewidth=1.4, ax=axC)
sns.lineplot(data=gr, x="day", y="value", color="black", linewidth=1.8, ax=axC)
sns.lineplot(data=grw, x="day", y="value", color="blue", linewidth=1.8, ax=axC)
axC.set_xlim(1, 365)
axC.set_ylim(0, 1)
axC.set_xticks([50, 100, 150, 200, 250, 300, 350])
axC.set_yticks([0, 0.2, 0.4, 0.6, 0.8, 1.0], ["0", "0.2", "0.4", "0.6", "0.8", "1"])
axC.xaxis.set_minor_locator(MultipleLocator(10))
axC.yaxis.set_minor_locator(MultipleLocator(0.05))
style_axes(axC, 5, 2.9, xpad=8.8)
axC.set_xlabel("DAY OF YEAR", fontsize=LABEL_FS, color=INK)
axC.set_ylabel("GROWTH RATE", fontsize=LABEL_FS, color=INK)
axC.xaxis.set_label_coords(0.5, -0.109)
axC.yaxis.set_label_coords(-0.0823, 0.5)
axC.set_title("Average Ensemble Growth Rates", fontsize=TITLE_FS, fontweight="bold", pad=6)
axC.text(0.026, 0.8475, "C", transform=axC.transAxes, fontsize=29, va="baseline", ha="left")
handlesC = [Line2D([], [], color="black", lw=1.8), Line2D([], [], color="blue", lw=1.8),
            Line2D([], [], color="red", lw=1.4)]
legC = axC.legend(handlesC, ["Gr", "GrW", "GrT"], loc="lower left",
                  bbox_to_anchor=(0.02, 0.033), borderaxespad=0, fontsize=14.1,
                  handlelength=2.1, handletextpad=0.3, labelspacing=0.2, borderpad=0.25,
                  fancybox=False, framealpha=1, edgecolor="black")
legC.get_frame().set_linewidth(0.8)

fig.savefig("out.png", dpi=100, facecolor="white")
